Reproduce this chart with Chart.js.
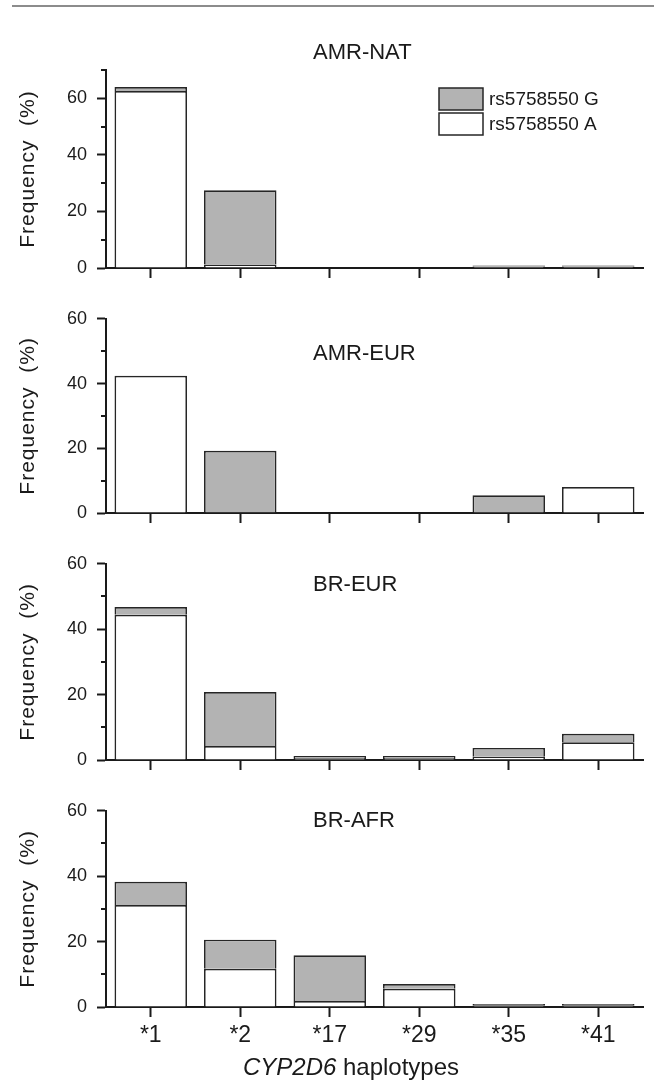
<!DOCTYPE html>
<html>
<head>
<meta charset="utf-8">
<script src="https://cdn.jsdelivr.net/npm/chart.js@4.4.0/dist/chart.umd.min.js"></script>
<style>
  body { margin: 0; background: #fff; }
  #page { position: relative; width: 656px; height: 1083px; overflow: hidden; background: #fff; }
  .rule { position: absolute; left: 12px; top: 5px; width: 642px; height: 2px; background: #8c8c8c; }
  canvas { position: absolute; left: 0; }
</style>
</head>
<body>
<div id="page">
  <div class="rule"></div>
  <canvas id="c0" width="656" height="278" style="top:20px"></canvas>
  <canvas id="c1" width="656" height="245" style="top:298px"></canvas>
  <canvas id="c2" width="656" height="247" style="top:543px"></canvas>
  <canvas id="c3" width="656" height="293" style="top:790px"></canvas>
</div>
<script>
// haplotypes on the x axis
const haplotypes = ['*1', '*2', '*17', '*29', '*35', '*41'];
const populations = ['AMR-NAT', 'AMR-EUR', 'BR-EUR', 'BR-AFR'];
const seriesLabels = ['rs5758550 A', 'rs5758550 G'];

// frequencies (%)
const amrNatA = [62.6, 1.2, 0, 0, 0.5, 0.5];
const amrNatG = [1.4, 26.3, 0, 0, 0.4, 0.4];
const amrEurA = [42.4, 0.3, 0, 0, 0, 8.0];
const amrEurG = [0, 18.9, 0, 0, 5.5, 0];
const brEurA = [44.4, 4.3, 0.6, 0.6, 1.0, 5.4];
const brEurG = [2.4, 16.5, 0.6, 0.6, 2.7, 2.6];
const brAfrA = [31.2, 11.7, 1.8, 5.6, 0.5, 0.5];
const brAfrG = [7.1, 8.9, 14.0, 1.4, 0.4, 0.4];

const yMax = [70, 60, 60, 60];
const yStep = 10;
const yLabelStep = 20;

const seriesA = [amrNatA, amrEurA, brEurA, brAfrA];
const seriesG = [amrNatG, amrEurG, brEurG, brAfrG];

// layout of each panel (canvas coords)
const panelLayout = [
  { padTop: 50, titleY: 39, xHeight: 30 },
  { padTop: 19, titleY: 62, xHeight: 30 },
  { padTop: 20, titleY: 48, xHeight: 30 },
  { padTop: 20, titleY: 37, xHeight: 76 }
];

const fontFam = '"Liberation Sans", Arial, sans-serif';
const ink = '#1a1a1a';
const barLine = '#262626';
Chart.defaults.font.family = fontFam;

const panelDecor = {
  id: 'panelDecor',
  afterDraw(chart, args, opts) {
    const ctx = chart.ctx;
    const y = chart.scales.y;
    const area = chart.chartArea;
    ctx.save();

    // minor ticks on y
    ctx.strokeStyle = ink;
    ctx.lineWidth = 2;
    y.ticks.forEach(t => {
      if (t.value % yLabelStep !== 0) {
        const py = Math.round(y.getPixelForValue(t.value));
        ctx.beginPath();
        ctx.moveTo(area.left - 5, py);
        ctx.lineTo(area.left, py);
        ctx.stroke();
      }
    });

    // panel title
    ctx.fillStyle = ink;
    ctx.font = '22px ' + fontFam;
    ctx.textAlign = 'left';
    ctx.textBaseline = 'alphabetic';
    ctx.fillText(opts.title, 313, opts.titleY);

    // y axis title
    ctx.save();
    ctx.translate(34, (area.top + area.bottom) / 2);
    ctx.rotate(-Math.PI / 2);
    ctx.font = '21px ' + fontFam;
    ctx.letterSpacing = '1px';
    ctx.textAlign = 'center';
    ctx.fillText('Frequency  (%)', 0, 0);
    ctx.restore();

    // legend (first panel)
    if (opts.legend) {
      const ds = chart.data.datasets.slice().reverse();
      ctx.font = '19px ' + fontFam;
      ctx.textBaseline = 'middle';
      ds.forEach((d, k) => {
        const by = area.top + 18 + k * 25;
        ctx.fillStyle = d.backgroundColor;
        ctx.fillRect(439, by, 44, 22);
        ctx.strokeStyle = d.borderColor;
        ctx.lineWidth = 1.5;
        ctx.strokeRect(439, by, 44, 22);
        ctx.fillStyle = ink;
        ctx.fillText(d.label, 489, by + 12);
      });
    }

    // x axis title (last panel)
    if (opts.xTitle) {
      ctx.textBaseline = 'alphabetic';
      ctx.textAlign = 'left';
      ctx.fillStyle = ink;
      ctx.font = 'italic 24px ' + fontFam;
      const w1 = ctx.measureText('CYP2D6').width;
      ctx.font = '24px ' + fontFam;
      const w2 = ctx.measureText(' haplotypes').width;
      const x0 = 351 - (w1 + w2) / 2;
      ctx.font = 'italic 24px ' + fontFam;
      ctx.fillText('CYP2D6', x0, 285);
      ctx.font = '24px ' + fontFam;
      ctx.fillText(' haplotypes', x0 + w1, 285);
    }
    ctx.restore();
  }
};

function makeChart(i) {
  const L = panelLayout[i];
  const last = i === populations.length - 1;
  return new Chart(document.getElementById('c' + i), {
    type: 'bar',
    data: {
      labels: haplotypes,
      datasets: [
        { label: seriesLabels[0], data: seriesA[i], backgroundColor: '#ffffff', borderColor: barLine, borderWidth: 1.7 },
        { label: seriesLabels[1], data: seriesG[i], backgroundColor: '#b3b3b3', borderColor: barLine, borderWidth: 1.7 }
      ]
    },
    options: {
      responsive: false,
      animation: false,
      layout: { padding: { top: L.padTop, right: 13, left: 0, bottom: 0 } },
      datasets: { bar: { barPercentage: 0.81, categoryPercentage: 1 } },
      plugins: {
        legend: { display: false },
        tooltip: { enabled: false },
        panelDecor: { title: populations[i], titleY: L.titleY, legend: i === 0, xTitle: last }
      },
      scales: {
        x: {
          stacked: true,
          grid: { offset: false, drawOnChartArea: false, drawTicks: true, tickLength: 10, tickWidth: 2, tickColor: ink },
          border: { display: true, color: ink, width: 2 },
          ticks: { display: last, color: ink, font: { size: 23 }, padding: 5, maxRotation: 0, autoSkip: false },
          afterFit: s => { s.height = L.xHeight; }
        },
        y: {
          stacked: true,
          min: 0,
          max: yMax[i],
          grid: {
            drawOnChartArea: false, tickLength: 9, tickWidth: 2,
            tickColor: c => (c.tick && c.tick.value % yLabelStep === 0) ? ink : 'rgba(0,0,0,0)'
          },
          border: { display: true, color: ink, width: 2 },
          ticks: {
            stepSize: yStep, padding: 10, color: ink, font: { size: 18 },
            callback: v => v % yLabelStep === 0 ? v : ''
          },
          afterFit: s => { s.width = 106; }
        }
      }
    },
    plugins: [panelDecor]
  });
}

populations.forEach((p, i) => makeChart(i));
</script>
</body>
</html>
